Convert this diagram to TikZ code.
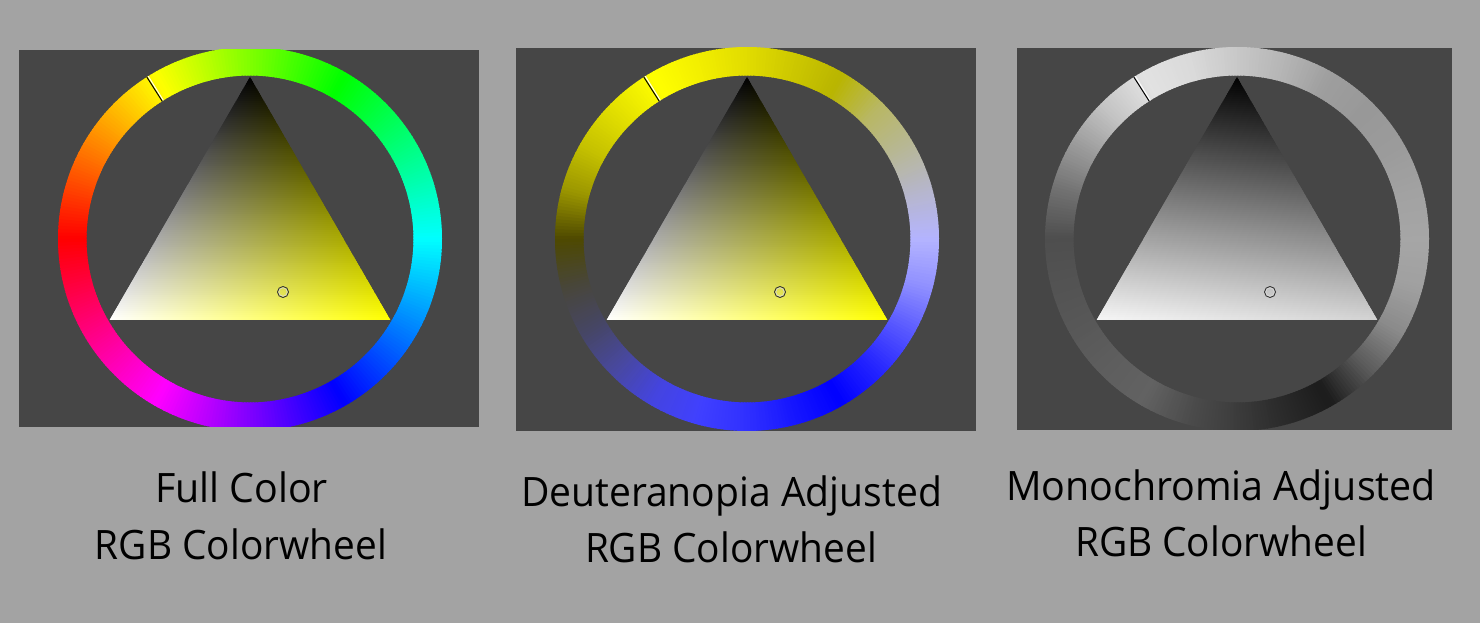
\documentclass[tikz,border=0pt]{standalone}
\usepackage{fontspec}
\setmainfont{Open Sans}
\usepackage{graphicx}
\definecolor{bggray}{RGB}{163,163,163}
\definecolor{panelgray}{RGB}{70,70,70}
% deuteranopia ring key colours, every 15 degrees of angle
\definecolor{dk0}{RGB}{180,180,255}
\definecolor{dk1}{RGB}{182,182,205}
\definecolor{dk2}{RGB}{183,183,150}
\definecolor{dk3}{RGB}{184,183,100}
\definecolor{dk4}{RGB}{185,181,0}
\definecolor{dk5}{RGB}{205,200,0}
\definecolor{dk6}{RGB}{225,220,0}
\definecolor{dk7}{RGB}{242,238,0}
\definecolor{dk8}{RGB}{255,255,0}
\definecolor{dk9}{RGB}{228,225,0}
\definecolor{dk10}{RGB}{198,194,0}
\definecolor{dk11}{RGB}{155,150,0}
\definecolor{dk12}{RGB}{78,73,0}
\definecolor{dk13}{RGB}{72,70,58}
\definecolor{dk14}{RGB}{70,70,100}
\definecolor{dk15}{RGB}{72,72,160}
\definecolor{dk16}{RGB}{68,68,225}
\definecolor{dk17}{RGB}{64,64,255}
\definecolor{dk18}{RGB}{48,48,255}
\definecolor{dk19}{RGB}{22,22,255}
\definecolor{dk20}{RGB}{0,0,255}
\definecolor{dk21}{RGB}{37,37,255}
\definecolor{dk22}{RGB}{88,88,255}
\definecolor{dk23}{RGB}{144,144,255}
\definecolor{dk24}{RGB}{180,180,255}
% monochromia ring key colours
\definecolor{mk0}{RGB}{166,166,166}
\definecolor{mk1}{RGB}{162,162,162}
\definecolor{mk2}{RGB}{155,155,155}
\definecolor{mk3}{RGB}{152,152,152}
\definecolor{mk4}{RGB}{158,158,158}
\definecolor{mk5}{RGB}{181,181,181}
\definecolor{mk6}{RGB}{200,200,200}
\definecolor{mk7}{RGB}{218,218,218}
\definecolor{mk8}{RGB}{226,226,226}
\definecolor{mk9}{RGB}{196,196,196}
\definecolor{mk10}{RGB}{154,154,154}
\definecolor{mk11}{RGB}{112,112,112}
\definecolor{mk12}{RGB}{78,78,78}
\definecolor{mk13}{RGB}{83,83,83}
\definecolor{mk14}{RGB}{88,88,88}
\definecolor{mk15}{RGB}{94,94,94}
\definecolor{mk16}{RGB}{98,98,98}
\definecolor{mk17}{RGB}{76,76,76}
\definecolor{mk18}{RGB}{60,60,60}
\definecolor{mk19}{RGB}{42,42,42}
\definecolor{mk20}{RGB}{28,28,28}
\definecolor{mk21}{RGB}{90,90,90}
\definecolor{mk22}{RGB}{138,138,138}
\definecolor{mk23}{RGB}{160,160,160}
\definecolor{mk24}{RGB}{166,166,166}
\definecolor{monoL}{RGB}{245,245,245}
\definecolor{monoR}{RGB}{210,210,210}

\newcommand\myhuering[2]{%
  \begin{scope}[shift={(#1,#2)}]
  \foreach \a in {0,...,359}{
    \pgfmathsetmacro\hh{mod(540-\a-0.5,360)}
    \definecolor{segc}{Hsb}{\hh,1,1}
    \draw[segc, line width=28.5pt] (\a:177.75) arc[start angle=\a, end angle=\a+1.4, radius=177.75pt];
  }
  \end{scope}}

\newcommand\mykeyring[3]{%
  \begin{scope}[shift={(#1,#2)}]
  \foreach \a in {0,...,359}{
    \pgfmathtruncatemacro\ii{floor(\a/15)}
    \pgfmathtruncatemacro\jj{\ii+1}
    \pgfmathsetmacro\pp{100-(\a+0.5-15*\ii)/15*100}
    \colorlet{segc}{#3\ii!\pp!#3\jj}
    \draw[segc, line width=28.5pt] (\a:177.75) arc[start angle=\a, end angle=\a+1.4, radius=177.75pt];
  }
  \end{scope}}

\newcommand\mytrishade[4]{%
  \begin{scope}[shift={(#1,#2)}]
  \clip (0,162) -- (140.3,-81) -- (-140.3,-81) -- cycle;
  \foreach \k in {0,...,119}{
    \pgfmathsetmacro\tA{\k/120}
    \pgfmathsetmacro\tB{(\k+1)/120}
    \pgfmathsetmacro\tM{(\k+0.5)/120*100}
    \pgfmathsetmacro\yA{162-\tA*243}
    \pgfmathsetmacro\yB{162-\tB*243-0.7}
    \shade[left color=#3!\tM!black, right color=#4!\tM!black]
      (-\tB*140.3-1,\yA) -- (\tB*140.3+1,\yA) -- (\tB*140.3+1,\yB) -- (-\tB*140.3-1,\yB) -- cycle;
  }
  \end{scope}}

\tikzset{
  panel/.style={fill=panelgray, draw=none},
  caption/.style={anchor=base, inner sep=0pt, text=black, font=\fontsize{40.5}{48}\selectfont},
  markblack/.style={draw=black, line width=1pt},
  markwhite/.style={draw=white, line width=0.9pt},
}

\begin{document}
\begin{tikzpicture}[x=1pt, y=1pt]
\useasboundingbox (0,0) rectangle (1480,623);
\fill[bggray] (0,0) rectangle (1480,623);

% ---------- panel 1: full colour ----------
\fill[panel] (19,196) rectangle (479,573);
\begin{scope}
  \clip (19,196) rectangle (479,573);
  \myhuering{250}{384}
\end{scope}
\mytrishade{250}{384}{white}{yellow}
\begin{scope}[shift={(250,384)}]
  \coordinate (c1) at (0,0);
  \draw[markblack] (122.5:163.5) -- (122.5:192);
  \draw[markwhite] (122.0:163.5) -- (122.0:192);
  \node[circle, draw=black!80, line width=0.9pt, minimum size=11pt, inner sep=0pt] (s1) at (33,-53) {};
  \draw[white!85!black, line width=0.6pt] (s1.center) circle (4.2pt);
\end{scope}

% ---------- panel 2: deuteranopia ----------
\fill[panel] (516,192) rectangle (976,575);
\begin{scope}
  \clip (516,192) rectangle (976,575);
  \mykeyring{747}{384}{dk}
\end{scope}
\mytrishade{747}{384}{white}{yellow}
\begin{scope}[shift={(747,384)}]
  \coordinate (c2) at (0,0);
  \draw[markblack] (122.5:163.5) -- (122.5:192);
  \draw[markwhite] (122.0:163.5) -- (122.0:192);
  \node[circle, draw=black!80, line width=0.9pt, minimum size=11pt, inner sep=0pt] (s2) at (33,-53) {};
  \draw[white!85!black, line width=0.6pt] (s2.center) circle (4.2pt);
\end{scope}

% ---------- panel 3: monochromia ----------
\fill[panel] (1017,193) rectangle (1452,575);
\begin{scope}
  \clip (1017,193) rectangle (1452,575);
  \mykeyring{1237}{384}{mk}
\end{scope}
\mytrishade{1237}{384}{monoL}{monoR}
\begin{scope}[shift={(1237,384)}]
  \coordinate (c3) at (0,0);
  \draw[markblack] (122.5:163.5) -- (122.5:192);
  \draw[markwhite] (122.0:163.5) -- (122.0:192);
  \node[circle, draw=black!80, line width=0.9pt, minimum size=11pt, inner sep=0pt] (s3) at (33,-53) {};
  \draw[white!85!black, line width=0.6pt] (s3.center) circle (4.2pt);
\end{scope}

% ---------- captions ----------
\node[caption] (t1a) at (241.5,120) {\resizebox{173pt}{\height}{Full Color}};
\node[caption] (t1b) at (241,63) {\resizebox{292pt}{\height}{RGB Colorwheel}};
\node[caption] (t2a) at (731.5,116.5) {\resizebox{421pt}{\height}{Deuteranopia Adjusted}};
\node[caption] (t2b) at (731,60) {\resizebox{292pt}{\height}{RGB Colorwheel}};
\node[caption] (t3a) at (1221,122.5) {\resizebox{430pt}{\height}{Monochromia Adjusted}};
\node[caption] (t3b) at (1221,66) {\resizebox{292pt}{\height}{RGB Colorwheel}};
\end{tikzpicture}
\end{document}
